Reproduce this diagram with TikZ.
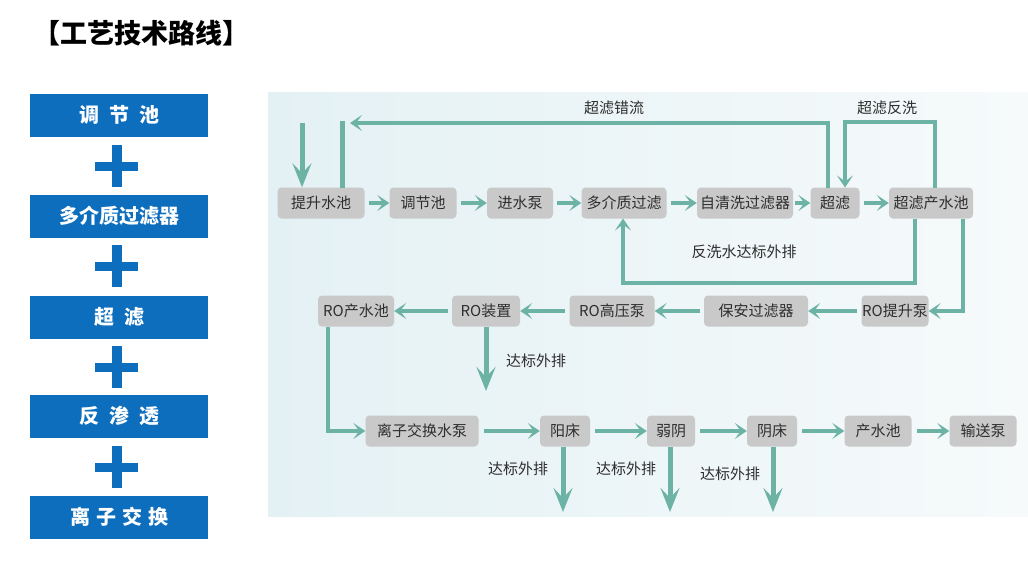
\documentclass[tikz,border=0pt]{standalone}
\usepackage{fontspec}
\setmainfont{Noto Sans CJK SC}
\usetikzlibrary{arrows.meta,positioning}
\definecolor{bluebox}{HTML}{0E6EBE}
\definecolor{grayb}{HTML}{C9C9C9}
\definecolor{txt}{HTML}{2E2E2E}
\definecolor{arrowc}{HTML}{6DB3A5}
\definecolor{panelL}{HTML}{E4F1F4}
\definecolor{panelR}{HTML}{F6FAFB}
\tikzset{
  bbox/.style={fill=bluebox, text=white, font=\fontsize{20}{22}\selectfont\bfseries, minimum width=178pt, minimum height=43pt, inner sep=0pt},
  gbox/.style={fill=grayb, rounded corners=4pt, text=txt, font=\fontsize{15}{17}\selectfont, minimum height=31pt, inner sep=0pt},
  lbl/.style={text=txt, font=\fontsize{15}{17}\selectfont, inner sep=0pt},
  flow/.style={draw=arrowc, line width=3.8pt, -{Stealth[length=12pt,width=16pt,inset=6pt]}},
  drain/.style={draw=arrowc, line width=5pt, -{Stealth[length=24pt,width=19pt,inset=10pt]}},
  pipe/.style={draw=arrowc, line width=5pt}
}
\begin{document}
\begin{tikzpicture}[x=1pt,y=-1pt]
\useasboundingbox (0,0) rectangle (1028,566);
\fill[white] (0,0) rectangle (1028,566);
% panel
\shade[left color=panelL, right color=panelR] (268,92) rectangle (1028,516);
% title
\node[font=\fontsize{27}{29}\selectfont\bfseries, text=black, anchor=west, inner sep=0pt] (title) at (33,33) {【工艺技术路线】};
% left column
\node[bbox] (b1) at (119,115) {调\hspace{0.5em}节\hspace{0.5em}池};
\node[bbox] (b2) at (119,216) {多介质过滤器};
\node[bbox] (b3) at (119,317) {超\hspace{0.5em}滤};
\node[bbox] (b4) at (119,416) {反\hspace{0.5em}渗\hspace{0.5em}透};
\node[bbox] (b5) at (119,517) {离\hspace{0.3em}子\hspace{0.3em}交\hspace{0.3em}换};
\foreach \y in {166,266,367,467}{
  \fill[bluebox] (112,\y-21) rectangle (122,\y+21);
  \fill[bluebox] (95,\y-4.5) rectangle (138,\y+4.5);
}
% row 1
\node[gbox, minimum width=87pt] (n1) at (321,203) {提升水池};
\node[gbox, minimum width=67pt] (n2) at (423,203) {调节池};
\node[gbox, minimum width=66pt] (n3) at (520,203) {进水泵};
\node[gbox, minimum width=85pt] (n4) at (624,203) {多介质过滤};
\node[gbox, minimum width=96pt] (n5) at (745,203) {自清洗过滤器};
\node[gbox, minimum width=49pt] (n6) at (835,203) {超滤};
\node[gbox, minimum width=84pt] (n7) at (931,203) {超滤产水池};
% row 2
\node[gbox, minimum width=76pt] (r1) at (356,311) {RO产水池};
\node[gbox, minimum width=68pt] (r2) at (486,311) {RO装置};
\node[gbox, minimum width=85pt] (r3) at (612,311) {RO高压泵};
\node[gbox, minimum width=104pt] (r4) at (756,311) {保安过滤器};
\node[gbox, minimum width=67pt] (r5) at (895,311) {RO提升泵};
% row 3
\node[gbox, minimum width=113pt] (i1) at (422,431) {离子交换水泵};
\node[gbox, minimum width=50pt] (i2) at (565,431) {阳床};
\node[gbox, minimum width=48pt] (i3) at (671,431) {弱阴};
\node[gbox, minimum width=50pt] (i4) at (772,431) {阴床};
\node[gbox, minimum width=67pt] (i5) at (878,431) {产水池};
\node[gbox, minimum width=67pt] (i6) at (983,431) {输送泵};
% labels
\node[lbl] (l1) at (614,108) {超滤错流};
\node[lbl] (l2) at (887,108) {超滤反洗};
\node[lbl] (l3) at (744,252) {反洗水达标外排};
\node[lbl] (l4) at (536,361) {达标外排};
\node[lbl] (l5) at (518,469) {达标外排};
\node[lbl] (l6) at (626,469) {达标外排};
\node[lbl] (l7) at (730,474) {达标外排};
% coordinates
\coordinate (in1) at (302,123);
\coordinate (p1a) at (828,187.5);
\coordinate (p1b) at (828,123);
\coordinate (p1c) at (350,123);
\coordinate (p2a) at (342,121);
\coordinate (p2b) at (342,187.5);
\coordinate (p3a) at (935,187.5);
\coordinate (p3b) at (935,122);
\coordinate (p3c) at (845,122);
\coordinate (p3d) at (845,187.5);
\coordinate (p4a) at (915,218.5);
\coordinate (p4b) at (915,283);
\coordinate (p4c) at (623,283);
\coordinate (p4d) at (623,218.5);
\coordinate (p5a) at (963,218.5);
\coordinate (p6a) at (328,326.5);
\coordinate (d1) at (486,391);
\coordinate (d2) at (563,512);
\coordinate (d3) at (670,512);
\coordinate (d4) at (773,512);
% row1 flows
\draw[flow, shorten <=4pt] (n1) -- (n2);
\draw[flow, shorten <=4pt] (n2) -- (n3);
\draw[flow, shorten <=4pt] (n3) -- (n4);
\draw[flow, shorten <=4pt] (n4) -- (n5);
\draw[flow, shorten <=2pt] (n5) -- (n6);
\draw[flow, shorten <=4pt] (n6) -- (n7);
% input
\draw[drain] (in1) -- (in1 |- n1.north);
% cross flow loop
\draw[flow] (p1a) -- (p1b) -- (p1c);
\draw[pipe] (p2a) -- (p2b);
% backwash
\draw[flow] (p3a) -- (p3b) -- (p3c) -- (p3d);
% backwash drain
\draw[flow] (p4a) -- (p4b) -- (p4c) -- (p4d);
% to RO lift pump
\draw[flow] (p5a) |- (r5.east);
% row2 flows
\draw[flow, shorten <=4pt] (r5) -- (r4);
\draw[flow, shorten <=4pt] (r4) -- (r3);
\draw[flow, shorten <=4pt] (r3) -- (r2);
\draw[flow, shorten <=4pt] (r2) -- (r1);
\draw[drain] (r2.south) -- (d1);
% to ion exchange
\draw[flow] (p6a) |- (i1.west);
% row3 flows
\draw[flow, shorten <=5pt] (i1) -- (i2);
\draw[flow, shorten <=5pt] (i2) -- (i3);
\draw[flow, shorten <=5pt] (i3) -- (i4);
\draw[flow, shorten <=5pt] (i4) -- (i5);
\draw[flow, shorten <=5pt] (i5) -- (i6);
\draw[drain] (i2.south -| d2) -- (d2);
\draw[drain] (i3.south -| d3) -- (d3);
\draw[drain] (i4.south -| d4) -- (d4);
\end{tikzpicture}
\end{document}
